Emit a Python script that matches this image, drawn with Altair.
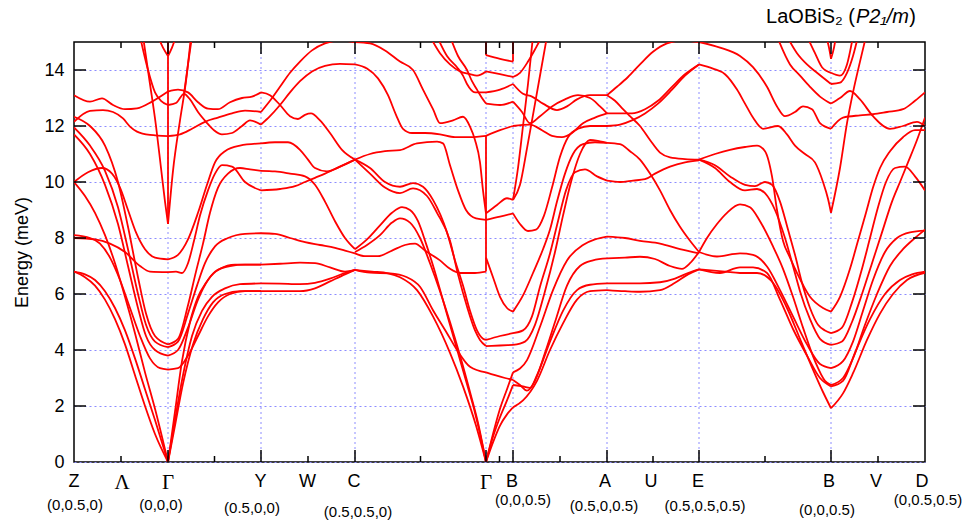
import altair as alt
import pandas as pd

# ---------------- data (k-path coordinate, energy in meV) ----------------
SYM_LETTERS = ["Z", "Λ", "Γ", "Y", "W", "C", "Γ", "B", "A", "U", "E", "B", "V", "D"]
SYM_LETTER_POS = [74, 122, 168, 260.5, 307.5, 354, 486, 512, 605, 651, 698, 829, 876, 922]
MAJOR_POS = [168, 261, 355, 486, 513, 607, 699, 831]
MINOR_POS = [121, 214.5, 308, 420.5, 499.5, 560, 653, 765, 878]
COORD_TEXT = ["(0,0.5,0)", "(0,0,0)", "(0.5,0,0)", "(0.5,0.5,0)", "(0,0,0.5)",
              "(0.5,0,0.5)", "(0.5,0.5,0.5)", "(0,0,0.5)", "(0,0.5,0.5)"]
COORD_POS = [75, 161, 252, 358, 523, 604, 705, 827, 928]
Y_TICKS = [0, 2, 4, 6, 8, 10, 12, 14]

Z_G = [
    [(74,13.1),(90,12.87),(102,12.99),(113,12.75),(125,12.6),(137,12.63),(152,12.87),(168,13.23)],
    [(74,12.15),(90,12.54),(103,12.57),(113,12.5),(123,12.27),(130,11.98),(137,11.8),(150,11.68),(168,11.64)],
    [(74,12.33),(90,12.0),(105,11.3),(118,10.0),(128,8.4),(138,6.6),(146,5.3),(155,4.5),(168,4.2)],
    [(74,11.95),(90,11.3),(105,10.4),(118,9.1),(128,7.6),(138,6.0),(146,4.9),(155,4.3),(168,4.1)],
    [(74,11.7),(90,11.0),(105,9.9),(118,8.5),(128,7.0),(138,5.5),(146,4.5),(155,4.0),(168,3.8)],
    [(74,10.0),(88,10.35),(102,10.5),(112,10.3),(120,9.8),(128,9.0),(136,8.2),(145,7.6),(155,7.3),(168,7.24)],
    [(74,10.0),(85,9.5),(95,8.9),(105,8.1),(115,7.1),(125,5.9),(135,4.6),(145,3.2),(155,1.9),(168,0)],
    [(74,8.1),(90,8.0),(100,7.8),(110,7.3),(120,6.5),(130,5.5),(140,4.5),(150,3.7),(160,3.35),(168,3.3)],
    [(74,8.0),(95,7.95),(110,7.8),(125,7.5),(140,7.0),(150,6.8),(168,6.78)],
    [(74,6.8),(85,6.7),(95,6.5),(105,6.1),(115,5.5),(125,4.7),(135,3.7),(145,2.6),(155,1.5),(168,0)],
    [(74,6.8),(85,6.6),(95,6.3),(105,5.8),(115,5.1),(125,4.2),(135,3.1),(145,2.0),(155,1.0),(168,0)],
    [(140,15.2),(148,14.0),(155,13.2),(161,12.9),(168,12.75)],
    [(143,15.2),(150,13.5),(156,12.0),(161,10.5),(165,9.3),(168,8.5)],
    [(158,15.2),(163,14.8),(168,14.5)],
]

G_Y = [
    [(168,13.23),(178,13.3),(188,13.2),(198,12.85),(208,12.62),(218,12.6),(230,12.85),(242,13.0),(252,13.05),(261,13.2)],
    [(168,12.75),(176,12.82),(184,13.15),(190,12.95),(198,12.5),(206,12.15),(214,11.85),(222,11.7),(232,11.75),(242,12.0),(250,12.2),(261,12.05)],
    [(168,11.64),(180,11.7),(192,11.9),(205,12.15),(218,12.3),(232,12.45),(245,12.55),(261,12.5)],
    [(168,8.5),(173,10.4),(180,12.2),(186,13.6),(191,15.2)],
    [(168,14.5),(172,14.8),(176,15.2)],
    [(184,13.15),(188,14.2),(192,15.2)],
    [(168,0),(175,1.3),(183,2.8),(193,4.2),(203,5.1),(213,5.7),(225,6.0),(240,6.1),(261,6.1)],
    [(168,0),(175,1.5),(183,3.1),(192,4.5),(202,5.4),(212,5.9),(225,6.2),(240,6.35),(261,6.38)],
    [(168,0),(175,1.8),(182,3.6),(190,5.0),(198,5.9),(206,6.4),(215,6.8),(230,7.0),(245,7.05),(261,7.05)],
    [(168,3.3),(178,3.35),(188,3.8),(198,4.5),(208,5.2),(218,5.7),(230,6.0),(245,6.1),(261,6.1)],
    [(168,3.8),(178,4.0),(188,4.8),(198,5.8),(208,6.5),(220,6.9),(235,7.05),(261,7.05)],
    [(168,4.1),(178,4.3),(188,5.3),(197,6.3),(205,7.1),(215,7.7),(228,8.0),(245,8.15),(261,8.17)],
    [(168,4.2),(178,4.4),(188,5.6),(196,6.8),(203,7.8),(210,8.9),(218,9.8),(228,10.3),(240,10.5),(250,10.45),(261,10.4)],
    [(168,7.24),(178,7.4),(188,7.95),(198,8.9),(207,9.9),(215,10.7),(225,11.1),(240,11.3),(261,11.38)],
    [(168,6.78),(176,6.8),(182,6.75),(188,7.1),(194,7.9),(200,8.8),(208,9.7),(215,10.3),(222,10.6),(232,10.55),(245,10.0),(261,9.7)],
]

Y_C = [
    [(261,12.5),(270,12.9),(280,13.4),(290,13.9),(300,14.3),(312,14.7),(325,14.95),(340,15.05),(355,15.0)],
    [(261,12.05),(270,12.35),(280,12.75),(290,13.2),(300,13.6),(312,13.95),(325,14.15),(340,14.22),(355,14.2)],
    [(261,13.2),(270,13.1),(280,12.75),(290,12.35),(298,12.25),(305,12.4),(311,12.45),(320,12.2),(330,11.75),(342,11.15),(355,10.8)],
    [(261,11.38),(275,11.42),(288,11.42),(300,11.15),(308,10.8),(315,10.5),(327,10.38),(340,10.55),(355,10.8)],
    [(261,10.4),(275,10.38),(290,10.3),(305,10.2),(315,9.9),(325,9.3),(335,8.6),(345,8.0),(355,7.6)],
    [(261,9.7),(280,9.75),(295,9.85),(305,10.0),(315,10.15),(325,10.3),(340,10.55),(355,10.8)],
    [(261,8.17),(275,8.15),(290,8.0),(305,7.85),(320,7.75),(335,7.65),(345,7.55),(355,7.45)],
    [(261,7.05),(280,7.08),(300,7.12),(315,7.1),(330,6.95),(345,6.8),(355,6.86)],
    [(261,6.38),(280,6.37),(300,6.35),(315,6.4),(330,6.55),(345,6.75),(355,6.86)],
    [(261,6.1),(280,6.1),(300,6.1),(315,6.2),(330,6.45),(345,6.7),(355,6.86)],
]

C_G = [
    [(355,15.0),(370,14.95),(385,14.7),(400,14.3),(413,14.0),(423,13.3),(433,12.6),(440,12.1),(453,12.2),(463,12.33),(470,11.98),(475,11.5),(480,10.7),(483,9.7),(486,8.88)],
    [(355,14.2),(367,14.05),(378,13.7),(388,13.1),(396,12.4),(403,11.9),(412,11.75),(425,11.75),(440,11.7),(455,11.6),(470,11.6),(486,11.65)],
    [(355,10.8),(370,11.0),(385,11.1),(400,11.14),(417,11.38),(437,11.44),(443,11.38),(450,10.6),(458,9.7),(466,9.0),(476,8.7),(486,8.65)],
    [(355,10.8),(370,10.5),(385,10.0),(400,9.83),(413,9.96),(423,9.83),(433,9.36),(447,8.2),(455,7.2),(463,6.3),(470,5.4),(477,4.7),(483,4.4),(486,4.36)],
    [(355,10.8),(370,10.3),(385,9.8),(400,9.6),(413,9.77),(427,9.5),(437,8.9),(450,7.9),(458,6.7),(467,5.55),(475,4.7),(480,4.36),(486,4.14)],
    [(355,7.45),(365,7.35),(378,7.35),(392,7.55),(405,7.75),(415,7.8),(425,7.55),(440,7.2),(450,6.9),(460,6.75),(475,6.75),(486,6.8)],
    [(355,7.6),(367,7.95),(380,8.45),(392,8.9),(402,9.1),(410,9.0),(418,8.6),(426,7.8),(434,6.9),(442,5.9),(450,4.9),(458,3.9),(466,2.9),(474,1.9),(480,1.0),(486,0)],
    [(355,7.5),(367,7.75),(380,8.1),(392,8.55),(400,8.7),(410,8.55),(420,8.0),(430,7.1),(440,6.1),(450,5.0),(460,3.8),(470,2.5),(478,1.4),(486,0)],
    [(355,6.86),(370,6.76),(390,6.74),(407,6.6),(420,6.26),(433,5.42),(447,4.6),(457,4.0),(470,3.4),(486,3.2)],
    [(355,6.86),(372,6.8),(388,6.74),(400,6.6),(417,6.14),(433,5.2),(450,3.9),(463,2.7),(476,1.3),(486,0)],
    [(430,15.2),(440,14.6),(450,14.2),(460,13.95),(470,13.85),(477,13.8),(486,13.95)],
    [(437,15.2),(447,14.5),(457,14.1),(463,13.8),(467,13.5),(475,13.2),(486,13.2)],
    [(450,15.2),(458,14.5),(467,14.0),(472,13.6),(477,13.3),(482,13.0),(486,12.8)],
]

G_B = [
    [(486,14.53),(500,14.4),(513,14.3)],
    [(486,13.95),(500,13.85),(513,13.75)],
    [(486,13.2),(500,13.3),(513,13.5)],
    [(486,12.8),(500,12.75),(513,12.87)],
    [(486,11.65),(500,11.85),(513,12.0)],
    [(486,8.88),(497,9.18),(507,9.42),(513,9.36)],
    [(486,8.65),(500,8.76),(513,8.88)],
    [(486,7.3),(493,6.6),(500,5.9),(507,5.5),(513,5.37)],
    [(486,4.36),(500,4.5),(513,4.6)],
    [(486,4.14),(500,4.16),(513,4.18)],
    [(486,3.2),(495,3.1),(505,3.0),(513,2.93)],
    [(486,0),(493,0.7),(500,1.3),(507,1.7),(513,1.95)],
    [(486,0),(493,0.9),(500,1.6),(507,2.2),(513,2.75)],
    [(486,0),(493,1.0),(500,1.9),(507,2.6),(513,3.2)],
]

B_A = [
    [(513,13.75),(520,13.9),(528,14.3),(536,14.8),(542,15.2)],
    [(513,13.5),(523,13.15),(532,13.05),(543,12.8),(557,12.57),(567,12.7),(577,12.95),(590,13.1),(607,13.1)],
    [(513,12.87),(522,12.5),(530,12.1),(540,12.35),(552,12.7),(565,12.95),(578,13.1),(590,13.0),(600,12.7),(607,12.45)],
    [(513,12.0),(530,12.05),(542,11.85),(552,11.65),(562,11.6),(572,11.75),(583,12.1),(595,12.3),(607,12.45)],
    [(513,9.36),(518,10.5),(523,12.0),(528,13.5),(533,15.2)],
    [(513,9.36),(520,9.9),(527,11.2),(535,12.8),(541,14.0),(547,15.2)],
    [(513,8.88),(520,8.5),(528,8.25),(536,8.3),(544,8.8),(552,9.8),(560,10.9),(568,11.6),(578,11.9),(590,12.0),(607,12.0)],
    [(513,5.37),(523,5.95),(533,6.75),(543,7.6),(550,8.3),(557,9.3),(565,10.3),(573,11.0),(583,11.35),(595,11.42),(607,11.4)],
    [(513,4.6),(523,4.7),(532,5.2),(540,6.26),(550,7.45),(558,8.6),(566,9.7),(575,10.35),(585,10.45),(597,10.2),(607,10.05)],
    [(513,4.18),(525,4.3),(535,4.9),(545,6.1),(555,7.5),(563,8.8),(571,10.0),(580,11.0),(590,11.5),(600,11.45),(607,11.4)],
    [(513,1.95),(523,2.2),(537,2.9),(550,4.0),(563,4.95),(577,5.8),(590,6.1),(607,6.14)],
    [(513,2.75),(523,2.7),(530,2.65),(537,3.1),(550,4.3),(563,5.4),(577,6.14),(590,6.33),(607,6.38)],
    [(513,2.93),(520,2.75),(527,2.55),(535,2.9),(545,3.9),(555,5.0),(567,6.3),(580,7.0),(593,7.2),(607,7.27)],
    [(513,3.2),(527,3.64),(540,4.83),(553,6.14),(567,7.2),(583,7.75),(595,7.95),(607,8.05)],
]

A_E = [
    [(607,13.1),(617,13.4),(628,13.75),(640,14.2),(653,14.65),(667,14.95),(682,15.05),(699,15.0)],
    [(607,12.45),(620,12.45),(632,12.45),(645,12.6),(658,12.9),(672,13.4),(685,13.85),(699,14.2)],
    [(607,12.0),(620,12.05),(632,12.2),(645,12.45),(658,12.8),(672,13.3),(685,13.8),(699,14.2)],
    [(607,13.1),(615,12.9),(623,12.6),(630,12.35),(640,12.0),(650,11.5),(660,11.05),(670,10.88),(685,10.82),(699,10.8)],
    [(607,11.4),(620,11.35),(630,11.1),(640,10.8),(650,10.3),(660,9.7),(670,9.0),(680,8.4),(690,7.9),(699,7.5)],
    [(607,10.05),(620,10.0),(633,10.05),(645,10.1),(655,10.3),(670,10.55),(685,10.7),(699,10.77)],
    [(607,8.05),(625,8.0),(640,7.9),(660,7.8),(680,7.6),(699,7.45)],
    [(607,7.27),(625,7.3),(640,7.33),(655,7.25),(670,7.0),(682,6.9),(690,7.1),(699,7.5)],
    [(607,6.38),(625,6.38),(640,6.38),(660,6.42),(675,6.55),(688,6.75),(699,6.88)],
    [(607,6.14),(625,6.1),(640,6.08),(660,6.14),(675,6.4),(688,6.7),(699,6.88)],
]

E_B = [
    [(699,15.0),(720,14.8),(740,14.5),(753,14.1),(767,13.4),(777,12.7),(785,12.35),(795,12.5),(803,12.7),(812,12.6),(820,12.1),(831,11.9)],
    [(699,14.2),(713,14.05),(725,13.85),(737,13.3),(745,12.8),(753,12.3),(763,11.9),(778,12.0),(787,11.7),(795,11.3),(805,11.0),(815,10.7),(823,10.0),(828,9.4),(831,8.9)],
    [(699,10.8),(715,11.0),(730,11.15),(745,11.25),(757,11.3),(765,11.1),(772,10.2),(777,9.0),(783,7.9),(790,7.3),(797,6.75),(810,5.9),(823,5.5),(831,5.37)],
    [(699,10.8),(715,10.6),(730,10.2),(745,9.9),(755,9.85),(765,10.0),(772,9.9),(780,9.3),(788,8.3),(795,7.4),(802,6.4),(810,5.5),(818,4.9),(825,4.7),(831,4.6)],
    [(699,10.8),(715,10.5),(730,10.0),(745,9.7),(757,9.75),(765,9.6),(775,9.0),(785,8.0),(793,7.0),(800,6.1),(810,5.1),(820,4.4),(831,4.18)],
    [(699,7.5),(717,7.34),(740,7.45),(753,7.4),(767,6.98),(780,6.14),(793,5.2),(807,4.2),(820,3.5),(831,3.35)],
    [(699,6.88),(720,6.75),(740,6.95),(753,6.95),(767,6.75),(780,5.8),(793,4.75),(807,3.8),(820,3.0),(831,2.7)],
    [(699,6.88),(725,6.8),(740,6.75),(757,6.75),(773,6.4),(787,5.5),(800,4.4),(813,3.3),(823,2.5),(831,1.92)],
    [(699,7.5),(707,8.0),(717,8.5),(727,8.9),(740,9.2),(750,9.1),(760,8.6),(773,7.7),(783,6.9),(793,5.9),(803,4.8),(815,3.6),(825,2.9),(831,2.75)],
    [(777,15.2),(790,14.2),(800,13.8),(810,13.4),(820,13.05),(831,12.8)],
    [(787,15.2),(797,14.6),(807,14.2),(817,13.9),(831,13.5)],
    [(807,15.2),(815,14.6),(822,14.1),(831,13.9)],
    [(826,15.2),(829,14.8),(831,14.4)],
]

B_D = [
    [(831,14.4),(834,14.8),(836,15.2)],
    [(831,13.9),(840,13.8),(847,14.2),(853,15.2)],
    [(831,13.5),(840,13.55),(847,13.9),(853,14.5),(858,15.2)],
    [(831,12.8),(840,13.0),(850,13.25),(860,12.95),(873,12.35),(890,11.9),(903,12.0),(917,12.15),(925,12.0)],
    [(831,8.9),(840,10.5),(847,12.1),(853,13.2),(860,14.3),(866,15.2)],
    [(831,11.9),(843,12.3),(860,12.38),(873,12.42),(887,12.5),(903,12.6),(915,12.9),(925,13.2)],
    [(831,5.37),(840,5.9),(850,6.9),(858,7.9),(866,8.9),(873,9.8),(880,10.5),(890,11.1),(903,11.6),(915,11.85),(925,11.85)],
    [(831,4.6),(842,4.8),(852,5.7),(862,6.9),(870,8.0),(878,9.1),(886,10.0),(895,10.5),(905,10.55),(915,10.2),(925,9.7)],
    [(831,4.18),(842,4.3),(852,5.0),(862,6.0),(872,7.1),(882,8.2),(892,9.3),(900,10.0),(908,10.7),(917,11.5),(925,12.3)],
    [(831,3.35),(843,3.6),(853,4.3),(863,5.4),(873,6.5),(885,7.5),(897,8.0),(910,8.2),(925,8.26)],
    [(831,2.75),(843,3.0),(853,3.7),(865,4.9),(877,6.0),(890,7.0),(903,7.6),(915,8.0),(925,8.3)],
    [(831,1.92),(843,2.45),(853,3.17),(867,4.36),(880,5.3),(893,6.0),(907,6.5),(925,6.76)],
    [(831,2.7),(843,2.9),(855,3.9),(870,5.1),(885,6.0),(900,6.5),(912,6.7),(925,6.8)],
]

# vertical jumps of the dispersion (k, E from, E to)
VERTICALS = [(168, 8.5, 15.0), (486, 6.8, 11.65), (486, 14.53, 15.0), (513, 14.3, 15.0)]

# ---------------- build tables ----------------
SEGMENTS = {"ZG": Z_G, "GY": G_Y, "YC": Y_C, "CG": C_G, "GB": G_B,
            "BA": B_A, "AE": A_E, "EB": E_B, "BD": B_D}
rows = []
for name, seg in SEGMENTS.items():
    for i, curve in enumerate(seg):
        for k, e in curve:
            rows.append({"band": f"{name}{i}", "k": k, "E": e})
bands_df = pd.DataFrame(rows)
vert_df = pd.DataFrame(VERTICALS, columns=["k", "E", "E2"])

W, H = 851, 420
RED = "#ff0000"
GRID = "#8c8cff"
SANS = "Liberation Sans"
SERIF = "Liberation Serif"

xs = alt.Scale(domain=[74, 925], nice=False, zero=False)
ys = alt.Scale(domain=[0, 15], nice=False)
Y_AXIS = alt.Axis(
    values=Y_TICKS, grid=True, gridColor=GRID, gridDash=[2, 3], gridWidth=1,
    ticks=False, domain=False, labelFont=SANS, labelFontSize=18, labelColor="black",
    labelPadding=10, title="Energy (meV)", titleFont=SANS, titleFontSize=18,
    titleFontWeight="normal", titleColor="black", titlePadding=12)


def X():
    return alt.X("k:Q", scale=xs, axis=None)


def Y():
    return alt.Y("E:Q", scale=ys, axis=Y_AXIS)


grid_x = alt.Chart(pd.DataFrame({"k": MAJOR_POS})).mark_rule(
    color=GRID, strokeWidth=1, strokeDash=[2, 3]).encode(x=X())

lines = alt.Chart(bands_df).mark_line(
    color=RED, strokeWidth=1.8, interpolate="monotone", clip=True
).encode(x=X(), y=Y(), detail="band:N", order="k:Q")

verts = alt.Chart(vert_df).mark_rule(color=RED, strokeWidth=1.8, clip=True).encode(
    x=X(), y=Y(), y2="E2:Q")

ytk = pd.DataFrame({"E": Y_TICKS[1:]})
yl = alt.Chart(ytk).mark_rule(color="black", strokeWidth=1.5).encode(
    y=Y(), x=alt.value(0), x2=alt.value(12))
yr = alt.Chart(ytk).mark_rule(color="black", strokeWidth=1.5).encode(
    y=Y(), x=alt.value(W - 12), x2=alt.value(W))

maj = pd.DataFrame({"k": MAJOR_POS})
mnr = pd.DataFrame({"k": MINOR_POS})
tick_layers = []
for df, ln in [(maj, 12), (mnr, 6)]:
    tick_layers.append(alt.Chart(df).mark_rule(color="black", strokeWidth=1.5).encode(
        x=X(), y=alt.value(H), y2=alt.value(H - ln)))
    tick_layers.append(alt.Chart(df).mark_rule(color="black", strokeWidth=1.5).encode(
        x=X(), y=alt.value(0), y2=alt.value(ln)))

lab = pd.DataFrame({"k": SYM_LETTER_POS, "t": SYM_LETTERS})
serif_set = {"Γ", "Λ"}
lab_sans = alt.Chart(lab[~lab.t.isin(serif_set)]).mark_text(
    font=SANS, fontSize=18, color="black", baseline="middle").encode(
    x=X(), y=alt.value(440), text="t:N")
lab_serif = alt.Chart(lab[lab.t.isin(serif_set)]).mark_text(
    font=SERIF, fontSize=21, color="black", baseline="middle").encode(
    x=X(), y=alt.value(441), text="t:N")

COORD_ROW = [463, 463, 466, 470, 458, 464, 464, 468, 458]
coord_df = pd.DataFrame({"k": COORD_POS, "t": COORD_TEXT, "row": COORD_ROW})
coord_layers = []
for r in sorted(set(COORD_ROW)):
    coord_layers.append(alt.Chart(coord_df[coord_df.row == r]).mark_text(
        font=SANS, fontSize=15, color="black", baseline="middle").encode(
        x=X(), y=alt.value(r), text="t:N"))


def title_part(text, xpos, italic=False):
    return alt.Chart(pd.DataFrame({"t": [text]})).mark_text(
        font=SANS, fontSize=20, color="black", baseline="middle", align="right",
        fontStyle="italic" if italic else "normal").encode(
        x=alt.value(xpos), y=alt.value(-25), text="t:N")


title_layers = [title_part(")", 842), title_part("P2₁/m", 835, True),
                title_part("LaOBiS₂ (", 781)]

chart = alt.layer(
    grid_x, lines, verts, yl, yr, *tick_layers, lab_sans, lab_serif,
    *coord_layers, *title_layers
).properties(
    width=W, height=H,
    padding={"left": 74, "top": 42, "right": 46, "bottom": 64},
    autosize=alt.AutoSizeParams(type="none"),
    background="white",
).configure_view(stroke="black", strokeWidth=1.5)

chart.save("out.html", embed_options={"renderer": "svg", "actions": False})
